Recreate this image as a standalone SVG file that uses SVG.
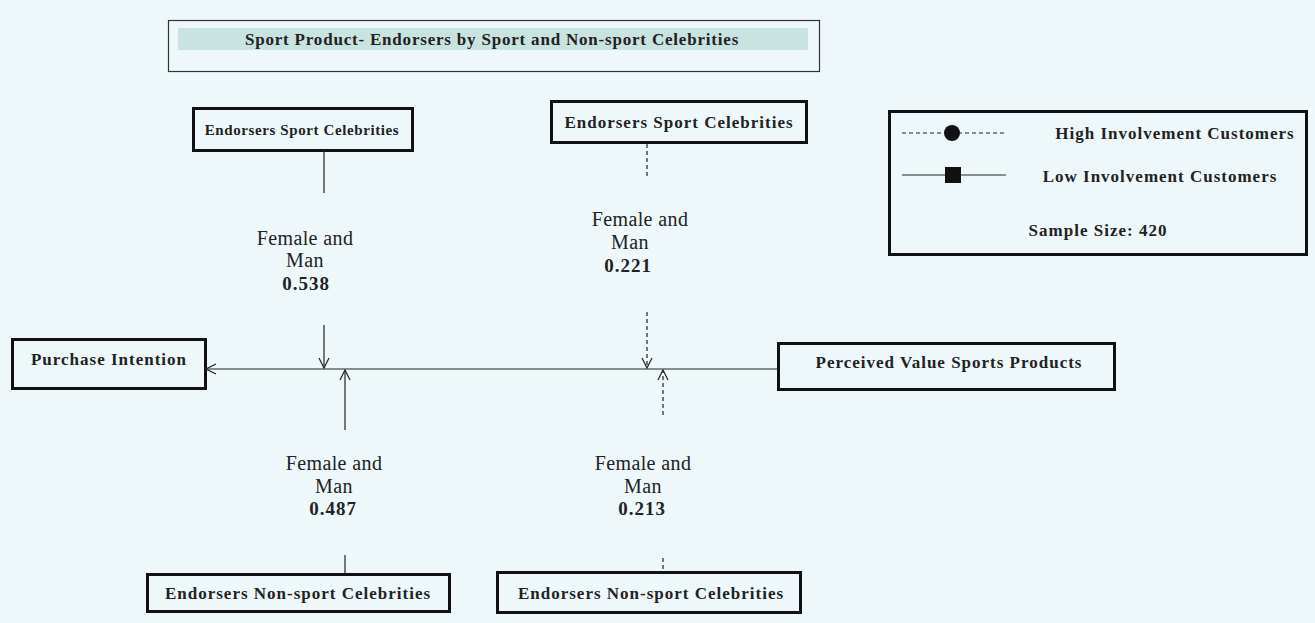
<svg xmlns="http://www.w3.org/2000/svg" width="1315" height="623" viewBox="0 0 1315 623">
<defs>
<style>
.box{fill:none;stroke:#111;stroke-width:3}
.thin{fill:none;stroke:#333;stroke-width:1.2}
.lbl{font-family:"Liberation Serif",serif;font-size:17px;font-weight:bold;fill:#222;text-anchor:middle;letter-spacing:1px}
.ttl{font-family:"Liberation Serif",serif;font-size:17px;font-weight:bold;fill:#222;text-anchor:middle;letter-spacing:0.8px}
.reg{font-family:"Liberation Serif",serif;font-size:20px;fill:#222;text-anchor:middle;letter-spacing:0.4px}
.num{font-family:"Liberation Serif",serif;font-size:19px;font-weight:bold;fill:#222;text-anchor:middle;letter-spacing:1px}
.line{stroke:#222;stroke-width:1.2;fill:none}
.dash{stroke:#222;stroke-width:1.2;fill:none;stroke-dasharray:4 3}
</style>
<marker id="arr" viewBox="0 0 12 12" refX="11" refY="6" markerWidth="12" markerHeight="12" markerUnits="userSpaceOnUse" orient="auto">
<path d="M1,1 L11,6 L1,11" fill="none" stroke="#222" stroke-width="1.2"/>
</marker>
</defs>
<rect width="1315" height="623" fill="#eef8fb"/>

<g id="title">
<rect x="168.5" y="20.5" width="651" height="51" class="thin"/>
<rect x="178" y="28" width="630" height="22" fill="#c9e3e0"/>
<text x="492" y="45" class="ttl">Sport Product- Endorsers by Sport and Non-sport Celebrities</text>
</g>

<g id="sport-left">
<rect x="193.5" y="108.5" width="219" height="42" class="box" fill="#f7fcfd"/>
<text x="302" y="135" class="lbl" style="font-size:15px;letter-spacing:0.6px">Endorsers Sport Celebrities</text>
</g>

<g id="sport-right">
<rect x="551.5" y="101.5" width="255" height="41" class="box"/>
<text x="679" y="128" class="lbl">Endorsers Sport Celebrities</text>
</g>

<g id="legend">
<rect x="889.5" y="111.5" width="417" height="143" class="box"/>
<line x1="902" y1="133" x2="1006" y2="133" class="dash" stroke-dasharray="3 3"/>
<circle cx="952" cy="133" r="8" fill="#111"/>
<text x="1175" y="139" class="lbl">High Involvement Customers</text>
<line x1="902" y1="175" x2="1006" y2="175" class="line"/>
<rect x="945" y="167" width="16" height="16" fill="#111"/>
<text x="1160" y="182" class="lbl">Low Involvement Customers</text>
<text x="1098" y="236" class="lbl">Sample Size: 420</text>
</g>

<g id="purchase">
<rect x="12.5" y="339.5" width="193" height="49" class="box"/>
<text x="109" y="365" class="lbl">Purchase Intention</text>
</g>

<g id="perceived">
<rect x="778.5" y="343.5" width="336" height="46" class="box"/>
<text x="949" y="368" class="lbl">Perceived Value Sports Products</text>
</g>

<g id="nonsport-left">
<rect x="147.5" y="574.5" width="302" height="37" class="box"/>
<text x="298" y="599" class="lbl">Endorsers Non-sport Celebrities</text>
</g>

<g id="nonsport-right">
<rect x="497.5" y="572.5" width="303" height="40" class="box"/>
<text x="651" y="599" class="lbl">Endorsers Non-sport Celebrities</text>
</g>

<g id="connectors">
<line x1="778" y1="369" x2="206" y2="369" class="line" marker-end="url(#arr)"/>
<line x1="324" y1="150" x2="324" y2="193" class="line"/>
<line x1="324" y1="325" x2="324" y2="368" class="line" marker-end="url(#arr)"/>
<line x1="345" y1="430" x2="345" y2="370" class="line" marker-end="url(#arr)"/>
<line x1="345" y1="555" x2="345" y2="574" class="line"/>
<line x1="647" y1="144" x2="647" y2="178" class="dash"/>
<line x1="647" y1="312" x2="647" y2="368" class="dash" marker-end="url(#arr)"/>
<line x1="663" y1="415" x2="663" y2="370" class="dash" marker-end="url(#arr)"/>
<line x1="663" y1="558" x2="663" y2="572" class="dash"/>
</g>

<g id="labels">
<text x="305" y="245" class="reg">Female and</text>
<text x="305" y="267" class="reg">Man</text>
<text x="306" y="290" class="num">0.538</text>
<text x="640" y="226" class="reg">Female and</text>
<text x="630" y="249" class="reg">Man</text>
<text x="628" y="272" class="num">0.221</text>
<text x="334" y="470" class="reg">Female and</text>
<text x="334" y="493" class="reg">Man</text>
<text x="333" y="515" class="num">0.487</text>
<text x="643" y="470" class="reg">Female and</text>
<text x="643" y="493" class="reg">Man</text>
<text x="642" y="515" class="num">0.213</text>
</g>
</svg>
